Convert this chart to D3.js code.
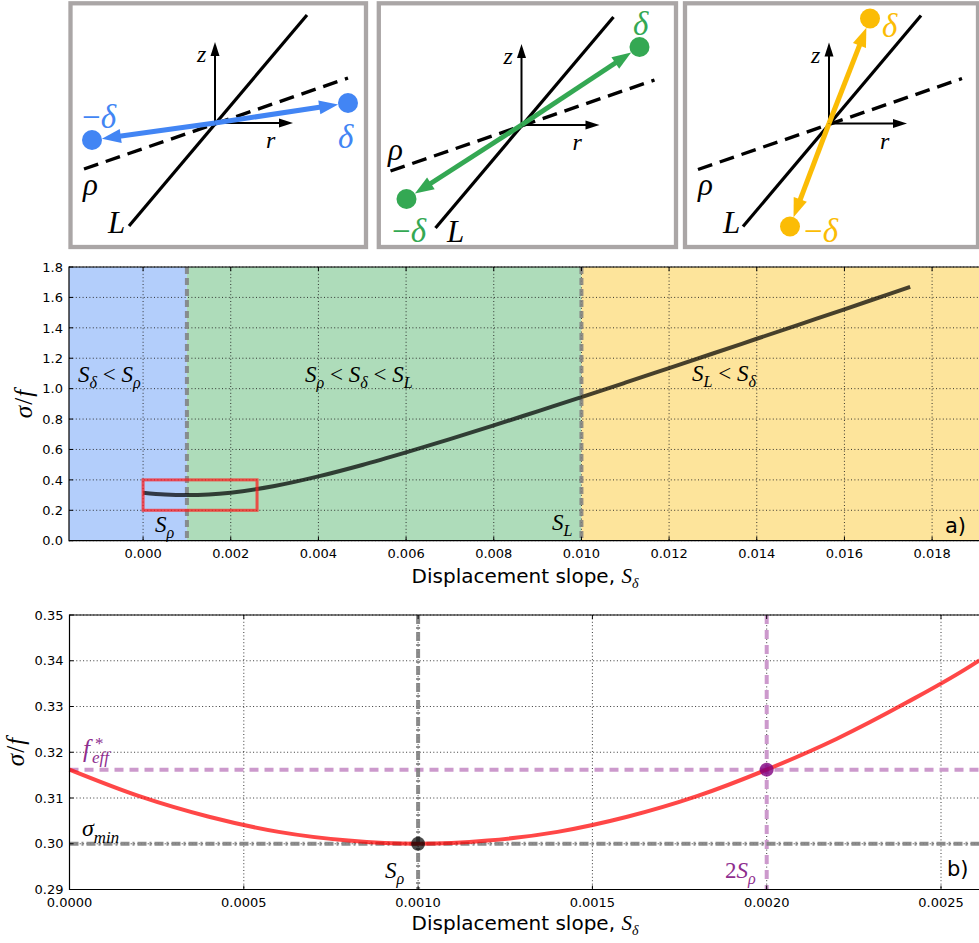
<!DOCTYPE html>
<html><head><meta charset="utf-8">
<script src="https://cdn.jsdelivr.net/npm/d3@7"></script>
<style>body{margin:0;background:#fff}svg{display:block}</style>
</head><body>
<svg id="c" width="979" height="943"></svg>
<script>
// ---------- data ----------
const slopeA = [0,0.0005,0.001,0.0015,0.002,0.003,0.004,0.005,0.006,0.007,0.008,0.009,0.010,0.011,0.012,0.013,0.014,0.015,0.016,0.017,0.0175];
const sigmaA = [0.316,0.304,0.300,0.304,0.316,0.360,0.423,0.498,0.581,0.668,0.758,0.851,0.944,1.039,1.135,1.231,1.328,1.425,1.522,1.620,1.669];
const slopeB = [0,0.0002,0.0004,0.0006,0.0008,0.0010,0.0012,0.0014,0.0016,0.0018,0.0020,0.0022,0.0024,0.0026,0.00261];
const sigmaB = [0.3162,0.3104,0.3059,0.3026,0.3007,0.3000,0.3007,0.3026,0.3059,0.3104,0.3162,0.3229,0.3308,0.3396,0.3401];
const regimeNames = ["rho","mid","L"];
const regimeEdges = [0.001, 0.010];          // S_rho, S_L
const sRho = 0.001, sL = 0.010, sigmaMin = 0.300, fEff = 0.3162, twoSRho = 0.002;
const zoomBox = [0, 0.0026, 0.2, 0.4];        // x0, x1, y0, y1
const xTicksA = [0,0.002,0.004,0.006,0.008,0.010,0.012,0.014,0.016,0.018];
const yTicksA = [0,0.2,0.4,0.6,0.8,1.0,1.2,1.4,1.6,1.8];
const xTicksB = [0,0.0005,0.0010,0.0015,0.0020,0.0025];
const yTicksB = [0.29,0.30,0.31,0.32,0.33,0.34,0.35];

// ---------- helpers ----------
const svg = d3.select("#c");
const SERIF = "'Liberation Serif','DejaVu Serif',serif";
const SANS = "'DejaVu Sans',sans-serif";

function mt(sel, x, y, tokens, size, color, anchor) {
  const t = sel.append("text").attr("x", x).attr("y", y)
    .attr("font-family", SERIF).attr("font-size", size)
    .attr("fill", color).attr("text-anchor", anchor || "start");
  let shift = 0;
  tokens.forEach(tok => {
    const [txt, kind, style, dx] = tok;
    const target = kind === "sub" ? size * 0.28 : kind === "sup" ? -size * 0.42 : 0;
    const ts = t.append("tspan").text(txt)
      .attr("dy", target - shift)
      .attr("font-size", kind === "n" ? size : size * 0.7)
      .attr("font-style", style === "up" ? "normal" : "italic");
    if (dx) ts.attr("dx", dx);
    shift = target;
  });
  return t;
}

// ---------- top diagrams ----------
const diagrams = [
  {box:[70.5,3.3,295.5,243.7], o:[215,123], color:"#4285f4", d:[133,-20], m:[-123,17],
   dl:[338,148], ml:[82,128], rho:[83,195], L:[108,233]},
  {box:[378.8,3.3,297.2,243.7], o:[521.5,125], color:"#34a853", d:[118,-78], m:[-115,74],
   dl:[633,35], ml:[392,242], rho:[388,160], L:[447,242]},
  {box:[685,3.3,293,243.7], o:[829,123.5], color:"#fbbc05", d:[41,-105], m:[-39,103],
   dl:[882,37], ml:[804,242], rho:[698,195], L:[723,233]}
];
function arrowHead(g, tip, dir, len, hw, color) {
  const [ux, uy] = dir, px = -uy, py = ux;
  const bx = tip[0] - ux*len, by = tip[1] - uy*len;
  g.append("path").attr("d",
    `M${tip[0]},${tip[1]}L${bx+px*hw},${by+py*hw}L${bx-px*hw},${by-py*hw}Z`).attr("fill", color);
}
diagrams.forEach(D => {
  const g = svg.append("g");
  g.append("rect").attr("x", D.box[0]).attr("y", D.box[1]).attr("width", D.box[2]).attr("height", D.box[3])
    .attr("fill", "#fff").attr("stroke", "#aaa6a6").attr("stroke-width", 4.3);
  const [ox, oy] = D.o;
  g.append("line").attr("x1", ox-86).attr("y1", oy+103).attr("x2", ox+92).attr("y2", oy-108)
    .attr("stroke", "#000").attr("stroke-width", 3.2);
  g.append("line").attr("x1", ox-131).attr("y1", oy+46).attr("x2", ox+133).attr("y2", oy-45)
    .attr("stroke", "#000").attr("stroke-width", 3.4).attr("stroke-dasharray", "15,8");
  // axes
  g.append("line").attr("x1", ox).attr("y1", oy+1).attr("x2", ox).attr("y2", oy-68)
    .attr("stroke", "#000").attr("stroke-width", 2);
  arrowHead(g, [ox, oy-81], [0,-1], 14, 4.5, "#000");
  g.append("line").attr("x1", ox-1).attr("y1", oy).attr("x2", ox+65).attr("y2", oy)
    .attr("stroke", "#000").attr("stroke-width", 2);
  arrowHead(g, [ox+78, oy], [1,0], 14, 4.5, "#000");
  // colored displacement arrows
  [D.d, D.m].forEach(p => {
    const dist = Math.hypot(p[0], p[1]);
    const u = [p[0]/dist, p[1]/dist];
    const tipD = dist - 10;
    const tip = [ox + u[0]*tipD, oy + u[1]*tipD];
    g.append("line").attr("x1", ox).attr("y1", oy)
      .attr("x2", ox + u[0]*(tipD-14)).attr("y2", oy + u[1]*(tipD-14))
      .attr("stroke", D.color).attr("stroke-width", 5);
    arrowHead(g, tip, u, 19, 7, D.color);
    g.append("circle").attr("cx", ox+p[0]).attr("cy", oy+p[1]).attr("r", 10).attr("fill", D.color);
  });
  // labels
  mt(g, ox-18, oy-61, [["z","n"]], 24, "#000");
  mt(g, ox+51, oy+25, [["r","n"]], 24, "#000");
  mt(g, D.rho[0], D.rho[1], [["ρ","n"]], 31, "#000");
  mt(g, D.L[0], D.L[1], [["L","n"]], 31, "#000");
  mt(g, D.dl[0], D.dl[1], [["δ","n"]], 33, D.color);
  mt(g, D.ml[0], D.ml[1], [["−","n","up"],["δ","n"]], 33, D.color);
});

// ---------- panel a ----------
const A = {l:69, r:979, t:267, b:540.7};
const xa = d3.scaleLinear().domain([-0.00169, 0.01907]).range([A.l, A.r]);
const ya = d3.scaleLinear().domain([0, 1.8]).range([A.b, A.t]);
const ga = svg.append("g");
const spanBounds = [xa.domain()[0], ...regimeEdges, xa.domain()[1]];
const spanColor = {rho:"#b3cefb", mid:"#aedcba", L:"#fde49b"};
regimeNames.forEach((n, i) => {
  ga.append("rect").attr("x", xa(spanBounds[i])).attr("y", A.t)
    .attr("width", xa(spanBounds[i+1]) - xa(spanBounds[i])).attr("height", A.b - A.t)
    .attr("fill", spanColor[n]);
});
function grid(g, xs, ys, xt, yt, box) {
  xt.forEach(v => g.append("line").attr("x1", xs(v)).attr("x2", xs(v)).attr("y1", box.t).attr("y2", box.b)
    .attr("stroke", "#222").attr("stroke-width", 0.9).attr("stroke-dasharray", "1,2.4"));
  yt.forEach(v => g.append("line").attr("y1", ys(v)).attr("y2", ys(v)).attr("x1", box.l).attr("x2", box.r)
    .attr("stroke", "#222").attr("stroke-width", 0.9).attr("stroke-dasharray", "1,2.4"));
}
grid(ga, xa, ya, xTicksA, yTicksA, A);
regimeEdges.forEach(v => ga.append("line").attr("x1", xa(v)).attr("x2", xa(v)).attr("y1", A.t).attr("y2", A.b)
  .attr("stroke", "#808080").attr("stroke-width", 4).attr("stroke-dasharray", "7,4").attr("opacity", 0.85));
const lineA = d3.line().x((d, i) => xa(slopeA[i])).y(d => ya(d)).curve(d3.curveMonotoneX);
ga.append("path").attr("d", lineA(sigmaA)).attr("fill", "none")
  .attr("stroke", "#000").attr("stroke-opacity", 0.72).attr("stroke-width", 4);
ga.append("rect").attr("x", xa(zoomBox[0])).attr("y", ya(zoomBox[3]))
  .attr("width", xa(zoomBox[1]) - xa(zoomBox[0])).attr("height", ya(zoomBox[2]) - ya(zoomBox[3]))
  .attr("fill", "none").attr("stroke", "#ff1a1a").attr("stroke-opacity", 0.72).attr("stroke-width", 3);

function frame(g, xs, ys, xt, yt, box, xfmt, yfmt, xlabY) {
  g.append("path").attr("d", `M${box.r+3},${box.t}H${box.l}V${box.b}H${box.r+3}`)
    .attr("fill", "none").attr("stroke", "#000").attr("stroke-width", 1.2);
  xt.forEach(v => {
    g.append("line").attr("x1", xs(v)).attr("x2", xs(v)).attr("y1", box.b).attr("y2", box.b-4).attr("stroke", "#000");
    g.append("line").attr("x1", xs(v)).attr("x2", xs(v)).attr("y1", box.t).attr("y2", box.t+4).attr("stroke", "#000");
    g.append("text").attr("x", xs(v)).attr("y", box.b + xlabY).attr("text-anchor", "middle")
      .attr("font-family", SANS).attr("font-size", 13).attr("fill", "#000").text(xfmt(v));
  });
  yt.forEach(v => {
    g.append("line").attr("x1", box.l).attr("x2", box.l+4).attr("y1", ys(v)).attr("y2", ys(v)).attr("stroke", "#000");
    g.append("text").attr("x", box.l - 6).attr("y", ys(v)).attr("dy", "0.36em").attr("text-anchor", "end")
      .attr("font-family", SANS).attr("font-size", 13).attr("fill", "#000").text(yfmt(v));
  });
}
frame(ga, xa, ya, xTicksA, yTicksA, A, d3.format(".3f"), d3.format(".1f"), 17.5);

function xLabel(g, y) {
  const t = g.append("text").attr("x", 525).attr("y", y).attr("text-anchor", "middle").attr("fill", "#000");
  t.append("tspan").attr("font-family", SANS).attr("font-size", 20).text("Displacement slope, ");
  t.append("tspan").attr("font-family", SERIF).attr("font-style", "italic").attr("font-size", 21).text("S");
  t.append("tspan").attr("font-family", SERIF).attr("font-style", "italic").attr("font-size", 14).attr("dy", 5).text("δ");
}
function yLabel(g, x, y) {
  const t = g.append("text").attr("transform", `translate(${x},${y}) rotate(-90)`).attr("text-anchor", "middle")
    .attr("font-family", SERIF).attr("font-size", 25).attr("fill", "#000");
  t.append("tspan").attr("font-style", "italic").text("σ");
  t.append("tspan").attr("dx", 1).text("/");
  t.append("tspan").attr("font-style", "italic").attr("dx", 1).text("f");
}
xLabel(ga, 583);
yLabel(ga, 32, 404);

mt(ga, 78, 382, [["S","n"],["δ","sub"],[" < ","n","up"],["S","n"],["ρ","sub"]], 23, "#000");
mt(ga, 305, 382, [["S","n"],["ρ","sub"],[" < ","n","up"],["S","n"],["δ","sub"],[" < ","n","up"],["S","n"],["L","sub"]], 23, "#000");
mt(ga, 692, 381, [["S","n"],["L","sub"],[" < ","n","up"],["S","n"],["δ","sub"]], 23, "#000");
mt(ga, 155, 532, [["S","n"],["ρ","sub"]], 23, "#000");
mt(ga, 552, 530, [["S","n"],["L","sub"]], 23, "#000");
ga.append("text").attr("x", 945).attr("y", 533).attr("font-family", SANS).attr("font-size", 21).attr("fill", "#000").text("a)");

// ---------- panel b ----------
const B = {l:69.5, r:979, t:615, b:889.5};
const xb = d3.scaleLinear().domain([0, 0.002609]).range([B.l, B.r]);
const yb = d3.scaleLinear().domain([0.29, 0.35]).range([B.b, B.t]);
const gb = svg.append("g");
grid(gb, xb, yb, xTicksB, yTicksB, B);
gb.append("line").attr("x1", B.l).attr("x2", B.r).attr("y1", yb(fEff)).attr("y2", yb(fEff))
  .attr("stroke", "#cc99cc").attr("stroke-width", 4).attr("stroke-dasharray", "9,6");
gb.append("line").attr("x1", xb(twoSRho)).attr("x2", xb(twoSRho)).attr("y1", B.t).attr("y2", B.b)
  .attr("stroke", "#cc99cc").attr("stroke-width", 4).attr("stroke-dasharray", "9,6");
gb.append("line").attr("x1", B.l).attr("x2", B.r).attr("y1", yb(sigmaMin)).attr("y2", yb(sigmaMin))
  .attr("stroke", "#808080").attr("stroke-opacity", 0.9).attr("stroke-width", 4).attr("stroke-dasharray", "9,3,2,3");
gb.append("line").attr("x1", xb(sRho)).attr("x2", xb(sRho)).attr("y1", B.t).attr("y2", B.b)
  .attr("stroke", "#808080").attr("stroke-opacity", 0.9).attr("stroke-width", 4).attr("stroke-dasharray", "9,3,2,3");
const lineB = d3.line().x((d, i) => xb(slopeB[i])).y(d => yb(d)).curve(d3.curveMonotoneX);
gb.append("path").attr("d", lineB(sigmaB)).attr("fill", "none")
  .attr("stroke", "#ff0000").attr("stroke-opacity", 0.72).attr("stroke-width", 4);
gb.append("circle").attr("cx", xb(sRho)).attr("cy", yb(sigmaMin)).attr("r", 7).attr("fill", "#000").attr("fill-opacity", 0.7);
gb.append("circle").attr("cx", xb(twoSRho)).attr("cy", yb(fEff)).attr("r", 7).attr("fill", "#800080").attr("fill-opacity", 0.8);
frame(gb, xb, yb, xTicksB, yTicksB, B, d3.format(".4f"), d3.format(".2f"), 17.5);
xLabel(gb, 930);
yLabel(gb, 24, 752);

const purple = "#8e2d8e";
gb.append("text").attr("x", 83).attr("y", 757).attr("font-family", SERIF).attr("font-size", 25)
  .attr("font-style", "italic").attr("fill", purple).text("f");
gb.append("text").attr("x", 95).attr("y", 749).attr("font-family", SERIF).attr("font-size", 17)
  .attr("fill", purple).text("*");
gb.append("text").attr("x", 92).attr("y", 763).attr("font-family", SERIF).attr("font-size", 17)
  .attr("font-style", "italic").attr("fill", purple).text("eff");
mt(gb, 82, 836, [["σ","n"],["min","sub"]], 24, "#000");
mt(gb, 385, 878, [["S","n"],["ρ","sub"]], 23, "#000");
mt(gb, 725, 878, [["2","n","up"],["S","n"],["ρ","sub"]], 23, purple);
gb.append("text").attr("x", 947).attr("y", 876).attr("font-family", SANS).attr("font-size", 21).attr("fill", "#000").text("b)");
</script>
</body></html>
